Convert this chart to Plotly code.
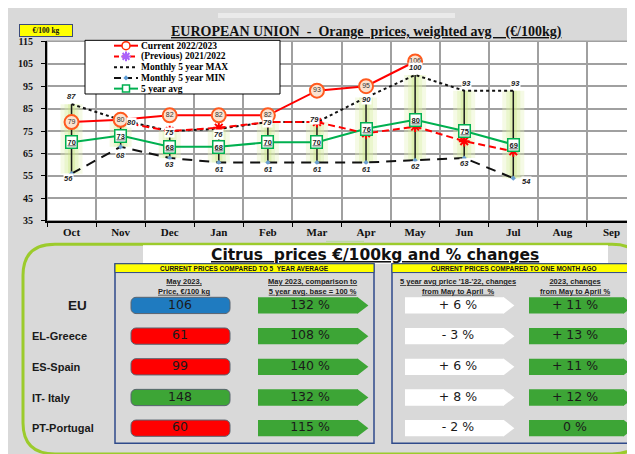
import plotly.graph_objects as go

# ---------------- data ----------------
months = ["Oct", "Nov", "Dec", "Jan", "Feb", "Mar", "Apr", "May", "Jun", "Jul", "Aug", "Sep"]
current = [79, 80, 82, 82, 82, 93, 95, 106, None, None, None, None]
previous = [None, 79, 75, 76.5, 79, 79, 74, 77, 70.5, 66, None, None]
max5 = [87, 80, 75, 76, 79, 79, 90, 100, 93, 93, None, None]
min5 = [56, 68, 63, 61, 61, 61, 61, 62, 63, 54, None, None]
avg5 = [70, 73, 68, 68, 70, 70, 76, 80, 75, 69, None, None]
y_ticks = [35, 45, 55, 65, 75, 85, 95, 105, 115]

regions = ["EU", "EL-Greece", "ES-Spain", "IT- Italy", "PT-Portugal"]
price_may = [106, 61, 99, 148, 60]
vs_5yr_avg = [132, 108, 140, 132, 115]
avg_change = [6, -3, 6, 8, -2]
cur_change = [11, 13, 11, 12, 0]

# ---------------- styles ----------------
price_colors = ["#1f7bc0", "#ff0000", "#ff0000", "#3da536", "#ff0000"]
GREEN = "#3da536"
SERIF = "Liberation Serif"
SANS = "Liberation Sans"
WIDE = "DejaVu Sans"
BG = "#d9d9d9"

max_dy = [8, -3, -1, -6, 0, 3, -2, 7, 7, 7]
max_dx = [0, 11, 0, 0, 0, -2, 0, 0, 2, 2]
min_dy = [-5, -9, -7, -7, -7, -7, -7, -6, -6, -3]
min_dx = [-3, 0, 0, 0, 0, 0, 0, 0, 0, 13]

fig = go.Figure()

# ---------- main chart ----------
span = [(mx - mn) if (mx is not None and mn is not None) else None for mx, mn in zip(max5, min5)]
zeros = [0] * len(months)
for thick, col in [(22, "rgba(225,242,180,0.35)"), (14, "rgba(215,238,160,0.35)"),
                   (7, "rgba(200,230,130,0.35)"), (1.5, "#1a1a1a")]:
    fig.add_trace(go.Scatter(
        x=months, y=min5, mode="markers", marker=dict(size=1, color="rgba(0,0,0,0)"),
        error_y=dict(type="data", symmetric=False, array=span, arrayminus=zeros,
                     color=col, thickness=thick, width=0),
        hoverinfo="skip", showlegend=False))

fig.add_trace(go.Scatter(x=months, y=min5, mode="lines+markers",
                         line=dict(color="#111111", width=2, dash="10px,7px"),
                         marker=dict(symbol="diamond", size=4, color="#6a9fd0"),
                         showlegend=False))
fig.add_trace(go.Scatter(x=months, y=max5, mode="lines",
                         line=dict(color="#111111", width=2, dash="dot"),
                         showlegend=False))
fig.add_trace(go.Scatter(x=months, y=avg5, mode="lines",
                         line=dict(color="#00b050", width=2), showlegend=False))
fig.add_trace(go.Scatter(x=months, y=previous, mode="lines+markers",
                         line=dict(color="#ff0000", width=2, dash="7px,4px"),
                         marker=dict(symbol="asterisk-open", size=9,
                                     line=dict(color="#ff6a00", width=2)),
                         showlegend=False))
fig.add_trace(go.Scatter(x=months, y=current, mode="lines+markers+text",
                         text=["" if v is None else str(v) for v in current],
                         textposition="middle center",
                         textfont=dict(family=SANS, size=7, color="#333333"),
                         line=dict(color="#ff0000", width=2),
                         marker=dict(symbol="circle", size=14, color="#fbe2cf",
                                     line=dict(color="#ff5a1f", width=2)),
                         showlegend=False))

annotations = []
for i, m in enumerate(months):
    if max5[i] is not None:
        annotations.append(dict(x=m, y=max5[i], xref="x", yref="y", text=f"<i><b>{max5[i]}</b></i>",
                                showarrow=False, bgcolor="white", borderpad=0, yshift=max_dy[i],
                                xshift=max_dx[i], font=dict(family=SANS, size=7.5, color="#222")))
    if min5[i] is not None:
        annotations.append(dict(x=m, y=min5[i], xref="x", yref="y", text=f"<i><b>{min5[i]}</b></i>",
                                showarrow=False, bgcolor="white", borderpad=0, yshift=min_dy[i],
                                xshift=min_dx[i], font=dict(family=SANS, size=7.5, color="#222")))
    if avg5[i] is not None:
        annotations.append(dict(x=m, y=avg5[i], xref="x", yref="y", text=f"<b><u>{avg5[i]}</u></b>",
                                showarrow=False, bgcolor="white", bordercolor="#00b050",
                                borderwidth=1.5, borderpad=1,
                                font=dict(family=SANS, size=7.5, color="#222")))

# ---------- custom legend (pixel overlay axes x2/y3) ----------
fig.add_trace(go.Scatter(x=[77, 272, 272, 77, 77], y=[28, 28, 83, 83, 28], mode="lines",
                         fill="toself", fillcolor="white", line=dict(color="black", width=1),
                         xaxis="x2", yaxis="y3", hoverinfo="skip", showlegend=False))
leg_rows = [33.5, 44.5, 55.5, 66.5, 77.5]
leg_names = ["Current 2022/2023", "(Previous) 2021/2022", "Monthly 5 year MAX",
             "Monthly 5 year MIN", "5 year avg"]
leg_lines = [dict(color="#ff0000", width=2), dict(color="#ff0000", width=2, dash="5px,3px"),
             dict(color="#111", width=2, dash="dot"), dict(color="#111", width=2, dash="7px,4px"),
             dict(color="#00b050", width=2)]
leg_markers = [dict(symbol="circle", size=8, color="white", line=dict(color="#ff2a00", width=1.5)),
               dict(symbol="asterisk-open", size=8, line=dict(color="#ff6a00", width=2)),
               dict(size=1, color="rgba(0,0,0,0)"),
               dict(symbol="diamond", size=4, color="#5b9bd5"),
               dict(symbol="square", size=7, color="white", line=dict(color="#00b050", width=1.5))]
for ry, nm, ln, mk in zip(leg_rows, leg_names, leg_lines, leg_markers):
    fig.add_trace(go.Scatter(x=[106, 118, 130], y=[ry] * 3, mode="lines", line=ln,
                             xaxis="x2", yaxis="y3", hoverinfo="skip", showlegend=False))
    fig.add_trace(go.Scatter(x=[118], y=[ry], mode="markers", marker=mk,
                             xaxis="x2", yaxis="y3", hoverinfo="skip", showlegend=False))
    annotations.append(dict(x=132, y=ry, xref="x2", yref="y3", text=f"<b>{nm}</b>", showarrow=False,
                            xanchor="left", yanchor="middle", borderpad=0,
                            font=dict(family=SERIF, size=9.5, color="black")))

# ---------- bottom table (x2 / y2 categorical rows) ----------
BAR_W = 0.53
def arrow(x0, x1, fill, texts, tx):
    fig.add_trace(go.Bar(orientation="h", y=regions, x=[x1 - x0] * 5, base=[x0] * 5, width=BAR_W,
                         marker=dict(color=fill, line=dict(width=0)),
                         xaxis="x2", yaxis="y2", hoverinfo="skip", showlegend=False))
    s = 14.5
    fig.add_trace(go.Scatter(x=[x1 + s / 4 - 0.5] * 5, y=regions, mode="markers",
                             marker=dict(symbol="triangle-right", size=s, color=fill,
                                         line=dict(width=0)),
                             xaxis="x2", yaxis="y2", hoverinfo="skip", showlegend=False))
    fig.add_trace(go.Scatter(x=[tx] * 5, y=regions, mode="text", text=texts,
                             textfont=dict(family=WIDE, size=12.5, color="#1a1a1a"),
                             xaxis="x2", yaxis="y2", hoverinfo="skip", showlegend=False))

# price boxes
fig.add_trace(go.Bar(orientation="h", y=regions, x=[99] * 5, base=[123] * 5, width=BAR_W,
                     marker=dict(color=price_colors, cornerradius=5,
                                 line=dict(color="#5a6470", width=1)),
                     xaxis="x2", yaxis="y2", hoverinfo="skip", showlegend=False))
fig.add_trace(go.Scatter(x=[172] * 5, y=regions, mode="text", text=[str(v) for v in price_may],
                         textfont=dict(family=WIDE, size=12.5, color="#1a1a1a"),
                         xaxis="x2", yaxis="y2", hoverinfo="skip", showlegend=False))

def fmt_change(v):
    if v > 0:
        return f"+ {v} %"
    if v < 0:
        return f"- {abs(v)} %"
    return f"{v} %"

arrow(250, 350, GREEN, [f"{v} %" for v in vs_5yr_avg], 302)
arrow(397, 496, "white", [fmt_change(v) for v in avg_change], 450)
arrow(521, 616, GREEN, [fmt_change(v) for v in cur_change], 567)

for i, r in enumerate(regions):
    if r == "EU":
        annotations.append(dict(x=69, y=r, xref="x2", yref="y2", text="<b>EU</b>", showarrow=False,
                                xanchor="center", font=dict(family=SANS, size=13.5, color="#1a1a1a")))
    else:
        annotations.append(dict(x=22, y=r, xref="x2", yref="y2", text=f"<b>{r}</b>", showarrow=False,
                                xanchor="left", font=dict(family=SANS, size=11, color="#1a1a1a")))

hdr_font = dict(family=SANS, size=7.5, color="#222")
for tx, txt in [(176, "<b><u>May 2023,</u></b><br><b><u>Price, €/100 kg</u></b>"),
                (305, "<b><u>May 2023, comparison to</u></b><br><b><u>5 year avg. base = 100 %</u></b>"),
                (450, "<b><u>5 year avg price '18-'22, changes</u></b><br><b><u>from May to April  %</u></b>"),
                (567, "<b><u>2023, changes</u></b><br><b><u>from May to April %</u></b>")]:
    annotations.append(dict(x=tx, y=280.5, xref="x2", yref="y3", text=txt, showarrow=False,
                            font=hdr_font))

annotations.append(dict(x=236.5, y=261.5, xref="x2", yref="y3", showarrow=False,
                        text="<b>CURRENT PRICES COMPARED TO 5\u00a0\u00a0YEAR AVERAGE</b>",
                        font=dict(family=SANS, size=6.5, color="#111")))
annotations.append(dict(x=505.5, y=261.5, xref="x2", yref="y3", showarrow=False,
                        text="<b>CURRENT PRICES COMPARED TO ONE MONTH AGO</b>",
                        font=dict(family=SANS, size=6.5, color="#111")))
annotations.append(dict(x=367, y=247.5, xref="x2", yref="y3", showarrow=False,
                        text="<b><u>Citrus\u00a0\u00a0prices €/100kg and % changes</u></b>",
                        font=dict(family=WIDE, size=15.5, color="#111")))

# ---------- titles ----------
annotations.append(dict(x=358, y=19.5, xref="x2", yref="y3", showarrow=False,
                        text="<b><u>EUROPEAN UNION\u00a0\u00a0-\u00a0\u00a0Orange\u00a0\u00a0prices, weighted avg\u00a0\u00a0\u00a0\u00a0(€/100kg)</u></b>",
                        font=dict(family=SERIF, size=14, color="#111")))
annotations.append(dict(x=37.5, y=18, xref="x2", yref="y3", showarrow=False, text="<b>€/100 kg</b>",
                        bgcolor="#ffff00", bordercolor="#3a4a7a", borderwidth=1, borderpad=1,
                        width=50, height=9, font=dict(family=SERIF, size=7.5, color="#111")))

# ---------- shapes ----------
R = 32
x0b, y0b, x1b, y1b = 15, 237, 636, 452
panel_path = (f"M {x0b + R},{y0b} L {x1b - R},{y0b} Q {x1b},{y0b} {x1b},{y0b + R} "
              f"L {x1b},{y1b - R} Q {x1b},{y1b} {x1b - R},{y1b} L {x0b + R},{y1b} "
              f"Q {x0b},{y1b} {x0b},{y1b - R} L {x0b},{y0b + R} Q {x0b},{y0b} {x0b + R},{y0b} Z")
shapes = [
    dict(type="rect", xref="x domain", yref="y domain", x0=0, x1=1, y0=0, y1=1,
         fillcolor="white", line=dict(color="#a0a0a0", width=1.5), layer="below"),
    dict(type="rect", xref="x2", yref="y3", x0=210, x1=447, y0=-3, y1=5,
         fillcolor="#eaeaea", line=dict(width=0), layer="below"),
    dict(type="line", xref="x2", yref="y3", x0=318, x1=356, y0=234, y1=234,
         line=dict(color="#b9d8a0", width=1), layer="below"),
    dict(type="path", xref="x2", yref="y3", path=panel_path,
         line=dict(color="#9ccb2c", width=3), layer="below"),
    dict(type="rect", xref="x2", yref="y3", x0=135, x1=600, y0=238, y1=257,
         fillcolor="white", line=dict(width=0), layer="below"),
    dict(type="rect", xref="x2", yref="y3", x0=107, x1=366, y0=257, y1=441,
         line=dict(color="#2f4a8a", width=1.5), layer="below"),
    dict(type="rect", xref="x2", yref="y3", x0=384, x1=630, y0=257, y1=441,
         line=dict(color="#2f4a8a", width=1.5), layer="below"),
    dict(type="rect", xref="x2", yref="y3", x0=107, x1=366, y0=257, y1=266,
         fillcolor="#ffff00", line=dict(color="#2f4a8a", width=1), layer="below"),
    dict(type="rect", xref="x2", yref="y3", x0=384, x1=627, y0=257, y1=266,
         fillcolor="#ffff00", line=dict(color="#2f4a8a", width=1), layer="below"),
]

fig.update_layout(
    width=635, height=454, autosize=False,
    margin=dict(l=0, r=0, t=0, b=0),
    paper_bgcolor=BG, plot_bgcolor="rgba(0,0,0,0)",
    showlegend=False, barmode="overlay",
    annotations=annotations, shapes=shapes,
    xaxis=dict(domain=[39 / 635, 628 / 635], type="category", categoryarray=months,
               range=[-0.5, 11.5], tickson="boundaries", showgrid=True, gridcolor="#a0a0a0",
               gridwidth=1.5, ticks="outside", ticklen=4, tickcolor="black",
               showline=True, linecolor="black", linewidth=2, fixedrange=True,
               tickfont=dict(family=SERIF, size=11, color="#111", weight="bold")),
    yaxis=dict(domain=[1 - 213 / 454, 1 - 29 / 454], range=[35, 115], tickvals=y_ticks,
               showgrid=True, gridcolor="#a0a0a0", gridwidth=1.5, zeroline=False,
               ticks="outside", ticklen=4, tickcolor="black", showline=True,
               linecolor="black", linewidth=2, ticklabelstandoff=6,
               tickfont=dict(family=SERIF, size=10, color="#111", weight="bold")),
    xaxis2=dict(domain=[0, 1], range=[0, 635], visible=False, anchor="y2", fixedrange=True),
    yaxis2=dict(domain=[0, 1], type="category", categoryarray=regions,
                range=[(454 - 299.7) / 31.45, -299.7 / 31.45], visible=False, anchor="x2"),
    yaxis3=dict(domain=[0, 1], range=[454, 0], visible=False, anchor="x2", overlaying="y2"),
)

fig.write_html("out.html")
